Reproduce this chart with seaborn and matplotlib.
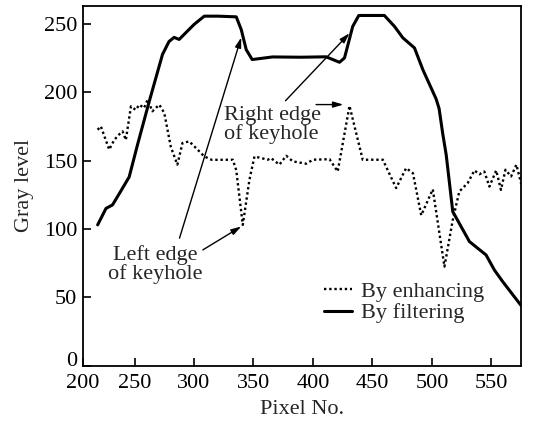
import matplotlib
matplotlib.use("Agg")
import matplotlib.pyplot as plt
import matplotlib.transforms as mtransforms
import seaborn as sns
import pandas as pd

# ---- data ----
filter_x = [219, 226, 231.5, 238, 245.5, 252.5, 262.3, 273.5, 279, 283.3, 287.5, 300, 308.6, 320,
            335.5, 339.7, 343.9, 348.9, 366, 390, 411, 422.3, 426.5, 433.4, 438.5, 460, 468.5,
            475.5, 485.3, 492.3, 503.5, 506, 509, 512, 517.5, 531.5, 545.5, 552.5, 559.5, 575]
filter_y = [103, 115, 117.6, 127, 138, 161.5, 193, 227.5, 237, 240, 238.5, 249.4, 255.5, 255.5,
            255, 245.7, 231, 223.8, 225.7, 225.5, 225.8, 221.8, 225, 248, 256, 256, 248,
            239.7, 232.3, 216.5, 195, 188, 170, 154, 112.7, 90.8, 81, 70, 61.5, 44]

enhance_x = [219, 221.7, 228.7, 232.9, 237, 240, 242.7, 247, 251, 254, 258, 261, 265, 270.8, 275,
             280.5, 286, 290.3, 296, 303, 308.6, 315, 332.6, 335.5, 341, 346.6, 350.8, 356.5, 362,
             364.7, 371.8, 377.5, 383, 394.3, 400, 413.9, 420.8, 430.7, 441.8, 458.7, 469.9, 478.3,
             484, 491, 500.7, 510.5, 517.5, 523, 530, 535.7, 539.9, 544, 548.3, 554, 558, 561.8,
             566.5, 571, 575]
enhance_y = [172.5, 175, 158, 165, 169, 171.3, 165, 189.6, 187, 190.8, 188.4, 194.5, 186, 190.8, 184.8,
             160, 147, 162.8, 164, 158, 153, 150.5, 150.6, 143, 103, 136, 153, 151.8, 150.6,
             151.8, 147, 153.5, 149.4, 147.7, 150.6, 151, 142, 190, 150.6, 150.6, 129.9, 144.5,
             140.8, 110, 129, 72.5, 106.6, 127.4, 133.5, 142.8, 140, 142, 131, 142.8, 128.6, 143.3,
             138.4, 147, 133]

series_names = ["By enhancing", "By filtering"]
x_tick_labels = ["200", "250", "300", "350", "400", "450", "500", "550"]
y_ticks = [0, 50, 100, 150, 200, 250]

FS = 16

sns.set_style("ticks")
plt.rcParams["font.family"] = ["Liberation Serif", "DejaVu Serif"]

fig = plt.figure(figsize=(5.34, 4.21), dpi=100)
ax = fig.add_axes([0.155, 0.131, 0.821, 0.855])

df_e = pd.DataFrame({"x": enhance_x, "y": enhance_y})
df_f = pd.DataFrame({"x": filter_x, "y": filter_y})

sns.lineplot(data=df_e, x="x", y="y", ax=ax, color="black", linewidth=1.7,
             linestyle=(0, (1, 1.2)), label=series_names[0], sort=False)
sns.lineplot(data=df_f, x="x", y="y", ax=ax, color="black", linewidth=2.2,
             label=series_names[1], sort=False)

xmin, xmax = 206.5, 575
ax.set_xlim(xmin, xmax)
ax.set_ylim(0, 263)
ax.set_xticks([xmin, 250, 300, 350, 400, 450, 500, 550])
ax.set_xticklabels(x_tick_labels)
ax.set_yticks(y_ticks)
ax.set_yticklabels([str(v) for v in y_ticks])
ax.tick_params(direction="in", length=6, width=1.2, labelsize=FS, colors="black",
               top=False, right=False)
ax.tick_params(axis="x", pad=6)
ax.tick_params(axis="y", pad=4)
for s in ax.spines.values():
    s.set_linewidth(1.3)
    s.set_color("black")

# raise the "0" label slightly, as in the reference
lbl0 = ax.get_yticklabels()[0]
lbl0.set_transform(lbl0.get_transform() +
                   mtransforms.ScaledTranslation(0, 5 / 72, fig.dpi_scale_trans))

ax.set_xlabel("Pixel No.", fontsize=FS, labelpad=5)
ax.set_ylabel("Gray level", fontsize=FS, labelpad=7)

leg = ax.legend(loc="lower right", bbox_to_anchor=(0.95, 0.075), frameon=False, fontsize=FS,
                handlelength=1.25, handletextpad=0.4, labelspacing=0.05, borderpad=0.2)

arrow_kw = dict(arrowstyle="-|>,head_length=0.6,head_width=0.18", color="black", lw=1.0,
                shrinkA=0, shrinkB=0)

ax.text(325.0, 176, "Right edge\nof keyhole", fontsize=FS, ha="left", va="center",
        linespacing=0.95)
ax.annotate("", xy=(430.7, 243), xytext=(376.9, 193.7), arrowprops=arrow_kw)
ax.annotate("", xy=(425.5, 190.9), xytext=(402.6, 190.9), arrowprops=arrow_kw)

ax.text(267.2, 74, "Left edge\nof keyhole", fontsize=FS, ha="center", va="center",
        linespacing=0.95)
ax.annotate("", xy=(339.7, 101.8), xytext=(307.4, 84.7), arrowprops=arrow_kw)
ax.annotate("", xy=(339.7, 240), xytext=(287.8, 93.3), arrowprops=arrow_kw)

fig.savefig("out.png", dpi=100)
